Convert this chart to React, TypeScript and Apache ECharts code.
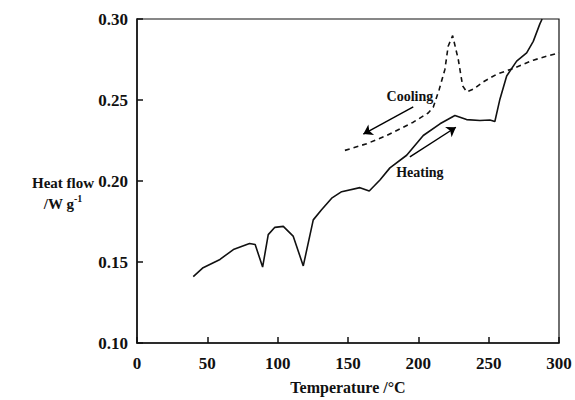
import React, { useEffect, useRef } from "react";
import * as echarts from "echarts";

const heatT = [40, 47, 59, 68.5, 80, 84, 89.3, 93.3, 98, 104, 111, 118.2, 125.3, 131.2, 138.4, 145.5, 158.5, 165.1, 172.7, 179.8, 191.7, 203.5, 215.4, 226, 234.3, 243.8, 250.9, 254.4, 258, 262.8, 269.9, 277, 281.7, 286.4, 288];
const heatQ = [0.141, 0.1465, 0.1516, 0.1577, 0.1614, 0.1608, 0.1469, 0.1669, 0.1714, 0.172, 0.166, 0.1476, 0.176, 0.1822, 0.1894, 0.1934, 0.1959, 0.1938, 0.2006, 0.2081, 0.2159, 0.2281, 0.2353, 0.2404, 0.2379, 0.2373, 0.2377, 0.2367, 0.2505, 0.2648, 0.274, 0.2791, 0.2862, 0.297, 0.3];

const coolT = [147.8, 163.3, 177.5, 196.4, 207, 210.6, 214.9, 218.9, 221.2, 224.4, 228.4, 231.5, 234.4, 239.1, 246.2, 255.7, 267.5, 281.7, 291.2, 300];
const coolQ = [0.2189, 0.223, 0.2281, 0.2363, 0.242, 0.2455, 0.2567, 0.2689, 0.2832, 0.2897, 0.275, 0.2587, 0.255, 0.2567, 0.2612, 0.2659, 0.2695, 0.2746, 0.277, 0.2791];

const coolArrow = [[196.4, 0.2458], [160.9, 0.229]];
const heatArrow = [[194, 0.2149], [226.7, 0.2332]];
const coolLabel = [194, 0.2524];
const heatLabel = [201.1, 0.2053];

const xTicks = [0, 50, 100, 150, 200, 250, 300];

const FONT = "Liberation Serif";

export default function App() {
  const ref = useRef<HTMLDivElement>(null);
  useEffect(() => {
    const chart = echarts.init(ref.current!, null, { renderer: "svg" });
    const zip = (a: number[], b: number[]) => a.map((v, i) => [v, b[i]]);
    const arrowStyle = { color: "#000", width: 1.4, type: "solid" };
    chart.setOption({
      animation: false,
      backgroundColor: "#fff",
      grid: { left: 137, right: 16, top: 19, bottom: 54, show: true, borderColor: "#111", borderWidth: 1.2 },
      xAxis: {
        type: "value",
        min: xTicks[0],
        max: xTicks[xTicks.length - 1],
        interval: 50,
        name: "Temperature /°C",
        nameLocation: "middle",
        nameGap: 36,
        nameTextStyle: { fontFamily: FONT, fontSize: 16, fontWeight: "bold", color: "#111" },
        axisLine: { lineStyle: { color: "#111", width: 1.5 } },
        axisTick: { inside: true, length: 6, lineStyle: { color: "#111", width: 1.5 } },
        axisLabel: { fontFamily: FONT, fontSize: 17, fontWeight: "bold", color: "#111", margin: 12 },
        splitLine: { show: false },
      },
      yAxis: {
        type: "value",
        min: 0.1,
        max: 0.3,
        interval: 0.05,
        axisLine: { show: true, lineStyle: { color: "#111", width: 1.5 } },
        axisTick: { show: true, inside: true, length: 6, lineStyle: { color: "#111", width: 1.5 } },
        axisLabel: { fontFamily: FONT, fontSize: 17, fontWeight: "bold", color: "#111", margin: 9, formatter: (v: number) => v.toFixed(2) },
        splitLine: { show: false },
      },
      graphic: [
        {
          type: "text",
          x: 63,
          y: 172,
          style: {
            text: "Heat flow\n/W g{sup|-1}",
            fontFamily: FONT,
            fontSize: 15,
            fontWeight: "bold",
            fill: "#111",
            align: "center",
            verticalAlign: "top",
            lineHeight: 21,
            rich: { sup: { fontFamily: FONT, fontSize: 10, fontWeight: "bold", verticalAlign: "top", padding: [0, 0, 8, 0] } },
          },
        },
      ],
      series: [
        {
          name: "Heating",
          type: "line",
          data: zip(heatT, heatQ),
          showSymbol: false,
          symbol: "none",
          lineStyle: { color: "#111", width: 1.6 },
          markLine: {
            silent: true,
            symbol: ["none", "arrow"],
            symbolSize: 9,
            label: { show: false },
            lineStyle: arrowStyle,
            data: [[{ coord: heatArrow[0] }, { coord: heatArrow[1] }]],
          },
          markPoint: {
            symbol: "circle",
            symbolSize: 0,
            label: { show: true, formatter: "Heating", fontFamily: FONT, fontSize: 14, fontWeight: "bold", color: "#111" },
            data: [{ coord: heatLabel }],
          },
        },
        {
          name: "Cooling",
          type: "line",
          data: zip(coolT, coolQ),
          showSymbol: false,
          symbol: "none",
          lineStyle: { color: "#111", width: 1.6, type: [5, 4] },
          markLine: {
            silent: true,
            symbol: ["none", "arrow"],
            symbolSize: 9,
            label: { show: false },
            lineStyle: arrowStyle,
            data: [[{ coord: coolArrow[0] }, { coord: coolArrow[1] }]],
          },
          markPoint: {
            symbol: "circle",
            symbolSize: 0,
            label: { show: true, formatter: "Cooling", fontFamily: FONT, fontSize: 14, fontWeight: "bold", color: "#111" },
            data: [{ coord: coolLabel }],
          },
        },
      ],
    });
    return () => chart.dispose();
  }, []);
  return <div ref={ref} style={{ position: "fixed", left: 0, top: 0, width: 575, height: 400 }} />;
}
